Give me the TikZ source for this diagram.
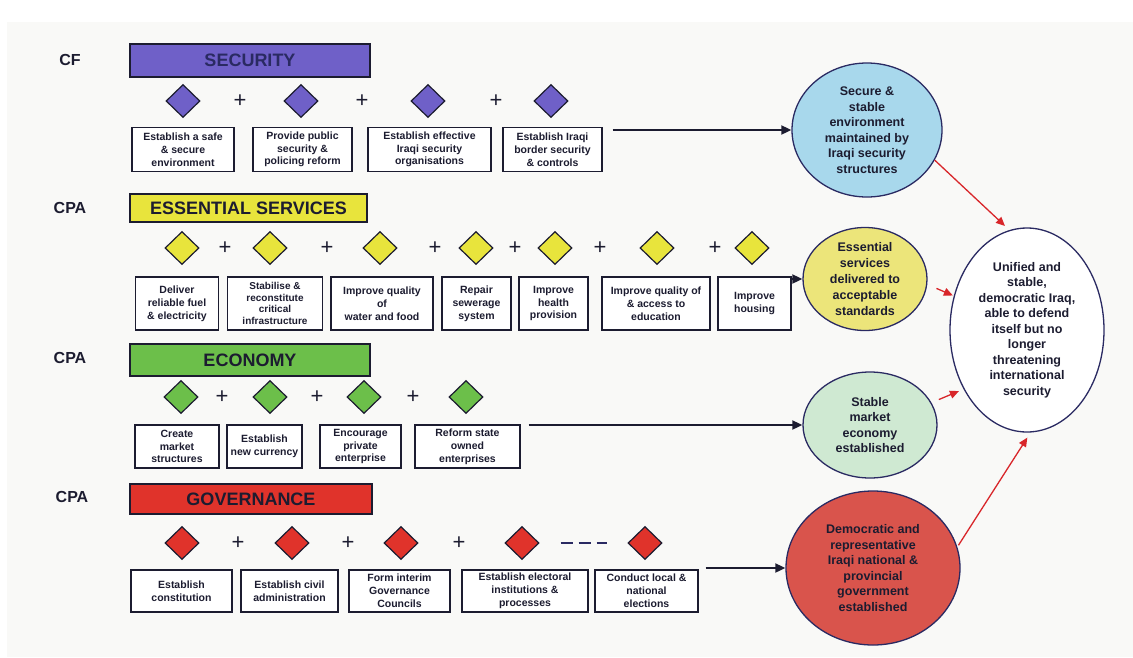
\documentclass[tikz,border=0pt]{standalone}
\usepackage{fontspec}
\setmainfont{Liberation Sans}
\usetikzlibrary{shapes.geometric,arrows.meta}
\definecolor{bgc}{HTML}{F9F9F7}
\definecolor{cpurple}{HTML}{6F60C8}
\definecolor{cyellow}{HTML}{E8E43C}
\definecolor{cgreen}{HTML}{6CBF4A}
\definecolor{cred}{HTML}{E0332B}
\definecolor{cblue}{HTML}{A8D8EC}
\definecolor{cyelc}{HTML}{ECE57A}
\definecolor{cgreenc}{HTML}{CFE9D2}
\definecolor{credc}{HTML}{D9544C}
\definecolor{navy}{HTML}{2A2A62}
\definecolor{ink}{HTML}{1C1C30}
\definecolor{arred}{HTML}{D8262A}
\begin{document}
\begin{tikzpicture}[x=1pt,y=-1pt,
  bar/.style={draw=ink, line width=1.4pt, inner sep=0pt, text=ink, font=\fontsize{18}{20}\selectfont\bfseries},
  lab/.style={text=ink, font=\fontsize{16}{18}\selectfont\bfseries},
  dia/.style={diamond, draw=ink, line width=1.2pt, minimum width=34pt, minimum height=33pt, inner sep=0pt},
  plus/.style={inner sep=0pt, text=ink, font=\fontsize{22}{22}\selectfont},
  tbox/.style={draw=ink, line width=1.3pt, fill=white, align=center, inner sep=1pt, text=ink, font=\fontsize{10.5}{12.8}\selectfont\bfseries},
  goal/.style={ellipse, draw=navy, line width=1.3pt, align=center, inner sep=-10pt, text=ink, font=\fontsize{12.5}{15.5}\selectfont\bfseries},
  arr/.style={-{Triangle[length=10pt,width=9pt]}, line width=1.8pt, draw=ink},
  rarr/.style={-{Triangle[length=9pt,width=8pt]}, line width=1.3pt, draw=arred}
]
\useasboundingbox (0,0) rectangle (1133,657);
\fill[bgc] (7,22) rectangle (1133,657);

% ---------- SECURITY ----------
\node[lab] (cf) at (70,60) {CF};
\node[bar, fill=cpurple, text=navy, minimum width=240pt, minimum height=33pt] (secbar) at (250,60.5) {SECURITY};
\node[dia, fill=cpurple] (sd1) at (183,101) {};
\node[dia, fill=cpurple] (sd2) at (301,101) {};
\node[dia, fill=cpurple] (sd3) at (428,101) {};
\node[dia, fill=cpurple] (sd4) at (551,101) {};
\node[plus] (sp1) at (240,101) {+};
\node[plus] (sp2) at (362,101) {+};
\node[plus] (sp3) at (496,101) {+};
\node[tbox, minimum width=102pt, minimum height=44pt] (s1) at (183,149.5) {Establish a safe\\ \& secure\\ environment};
\node[tbox, minimum width=99pt, minimum height=44pt] (s2) at (302.5,149.5) {Provide public\\ security \&\\ policing reform};
\node[tbox, minimum width=123pt, minimum height=44pt] (s3) at (429.5,149.5) {Establish effective\\ Iraqi security\\ organisations};
\node[tbox, minimum width=99pt, minimum height=44pt] (s4) at (552.5,149.5) {Establish Iraqi\\ border security\\ \& controls};

% ---------- ESSENTIAL SERVICES ----------
\node[lab] (cpa1) at (70,208) {CPA};
\node[bar, fill=cyellow, minimum width=237pt, minimum height=28pt] (esbar) at (248.5,208) {ESSENTIAL SERVICES};
\node[dia, fill=cyellow] (ed1) at (182,248) {};
\node[dia, fill=cyellow] (ed2) at (270,248) {};
\node[dia, fill=cyellow] (ed3) at (380,248) {};
\node[dia, fill=cyellow] (ed4) at (476,248) {};
\node[dia, fill=cyellow] (ed5) at (555,248) {};
\node[dia, fill=cyellow] (ed6) at (657,248) {};
\node[dia, fill=cyellow] (ed7) at (752,248) {};
\node[plus] (ep1) at (225,248) {+};
\node[plus] (ep2) at (327,248) {+};
\node[plus] (ep3) at (435,248) {+};
\node[plus] (ep4) at (515,248) {+};
\node[plus] (ep5) at (600,248) {+};
\node[plus] (ep6) at (715,248) {+};
\node[tbox, minimum width=83pt, minimum height=53pt] (e1) at (177,303.5) {Deliver\\ reliable fuel\\ \& electricity};
\node[tbox, minimum width=95pt, minimum height=53pt, font=\fontsize{10}{11.8}\selectfont\bfseries] (e2) at (275,303.5) {Stabilise \&\\ reconstitute\\ critical\\ infrastructure};
\node[tbox, minimum width=102pt, minimum height=53pt] (e3) at (382,303.5) {Improve quality\\ of\\ water and food};
\node[tbox, minimum width=69pt, minimum height=53pt] (e4) at (476.5,303.5) {Repair\\ sewerage\\ system};
\node[tbox, minimum width=69pt, minimum height=53pt] (e5) at (553.5,303.5) {Improve\\ health\\ provision};
\node[tbox, minimum width=108pt, minimum height=53pt] (e6) at (656,303.5) {Improve quality of\\ \& access to\\ education};
\node[tbox, minimum width=73pt, minimum height=53pt] (e7) at (754.5,303.5) {Improve\\ housing};

% ---------- ECONOMY ----------
\node[lab] (cpa2) at (70,358) {CPA};
\node[bar, fill=cgreen, minimum width=240pt, minimum height=32pt] (ecobar) at (250,360) {ECONOMY};
\node[dia, fill=cgreen] (cd1) at (181,397) {};
\node[dia, fill=cgreen] (cd2) at (270,397) {};
\node[dia, fill=cgreen] (cd3) at (364,397) {};
\node[dia, fill=cgreen] (cd4) at (466,397) {};
\node[plus] (cp1) at (222,397) {+};
\node[plus] (cp2) at (317,397) {+};
\node[plus] (cp3) at (413,397) {+};
\node[tbox, minimum width=84pt, minimum height=43pt] (c1) at (177,446.5) {Create\\ market\\ structures};
\node[tbox, minimum width=75pt, minimum height=43pt] (c2) at (264.5,446.5) {Establish\\ new currency};
\node[tbox, minimum width=81pt, minimum height=43pt] (c3) at (360.5,446.5) {Encourage\\ private\\ enterprise};
\node[tbox, minimum width=105pt, minimum height=43pt] (c4) at (467.5,446.5) {Reform state\\ owned\\ enterprises};

% ---------- GOVERNANCE ----------
\node[lab] (cpa3) at (72,497) {CPA};
\node[bar, fill=cred, minimum width=242pt, minimum height=30pt] (govbar) at (251,499) {GOVERNANCE};
\node[dia, fill=cred] (gd1) at (182,543) {};
\node[dia, fill=cred] (gd2) at (292,543) {};
\node[dia, fill=cred] (gd3) at (401,543) {};
\node[dia, fill=cred] (gd4) at (522,543) {};
\node[dia, fill=cred] (gd5) at (645,543) {};
\node[plus] (gp1) at (238,543) {+};
\node[plus] (gp2) at (348,543) {+};
\node[plus] (gp3) at (459,543) {+};
\draw[navy, line width=2.6pt, dash pattern=on 12pt off 6pt, shorten <=21pt, shorten >=20pt] (gd4.east) -- (gd5.west);
\node[tbox, minimum width=101pt, minimum height=42pt] (g1) at (181.5,591) {Establish\\ constitution};
\node[tbox, minimum width=97pt, minimum height=42pt] (g2) at (289.5,591) {Establish civil\\ administration};
\node[tbox, minimum width=101pt, minimum height=42pt] (g3) at (399.5,591) {Form interim\\ Governance\\ Councils};
\node[tbox, minimum width=126pt, minimum height=42pt] (g4) at (525,591) {Establish electoral\\ institutions \&\\ processes};
\node[tbox, minimum width=103pt, minimum height=42pt] (g5) at (646.5,591) {Conduct local \&\\ national\\ elections};

% ---------- OUTCOMES ----------
\node[goal, fill=cblue, minimum width=150pt, minimum height=134pt] (blue) at (867,130) {Secure \&\\ stable\\ environment\\ maintained by\\ Iraqi security\\ structures};
\node[goal, fill=cyelc, minimum width=124pt, minimum height=103pt, font=\fontsize{12.5}{15.8}\selectfont\bfseries] (yellow) at (865,279) {Essential\\ services\\ delivered to\\ acceptable\\ standards};
\node[goal, fill=white, minimum width=154pt, minimum height=204pt] (big) at (1027,330) {Unified and\\ stable,\\ democratic Iraq,\\ able to defend\\ itself but no\\ longer\\ threatening\\ international\\ security};
\node[goal, fill=cgreenc, minimum width=134pt, minimum height=106pt] (green) at (870,425) {Stable\\ market\\ economy\\ established};
\node[goal, fill=credc, minimum width=174pt, minimum height=154pt] (red) at (873,568) {Democratic and\\ representative\\ Iraqi national \&\\ provincial\\ government\\ established};

% ---------- CONNECTORS ----------
\draw[arr, shorten <=10pt] (s4.east |- blue.west) -- (blue.west);
\draw[arr] (e7.east |- yellow.west) -- (yellow.west);
\draw[arr, shorten <=8pt] (c4.east |- green.west) -- (green.west);
\draw[arr, shorten <=7pt] (g5.east |- red.west) -- (red.west);

\draw[rarr, shorten >=6pt] (blue.-24) -- (big.100);
\draw[rarr, shorten <=10pt, shorten >=1pt] (yellow.-5) -- (big.155);
\draw[rarr, shorten <=8pt, shorten >=5pt] (green.20) -- (big.-137);
\draw[rarr, shorten <=2pt, shorten >=6pt] (red.14) -- (big.-88);
\end{tikzpicture}
\end{document}
